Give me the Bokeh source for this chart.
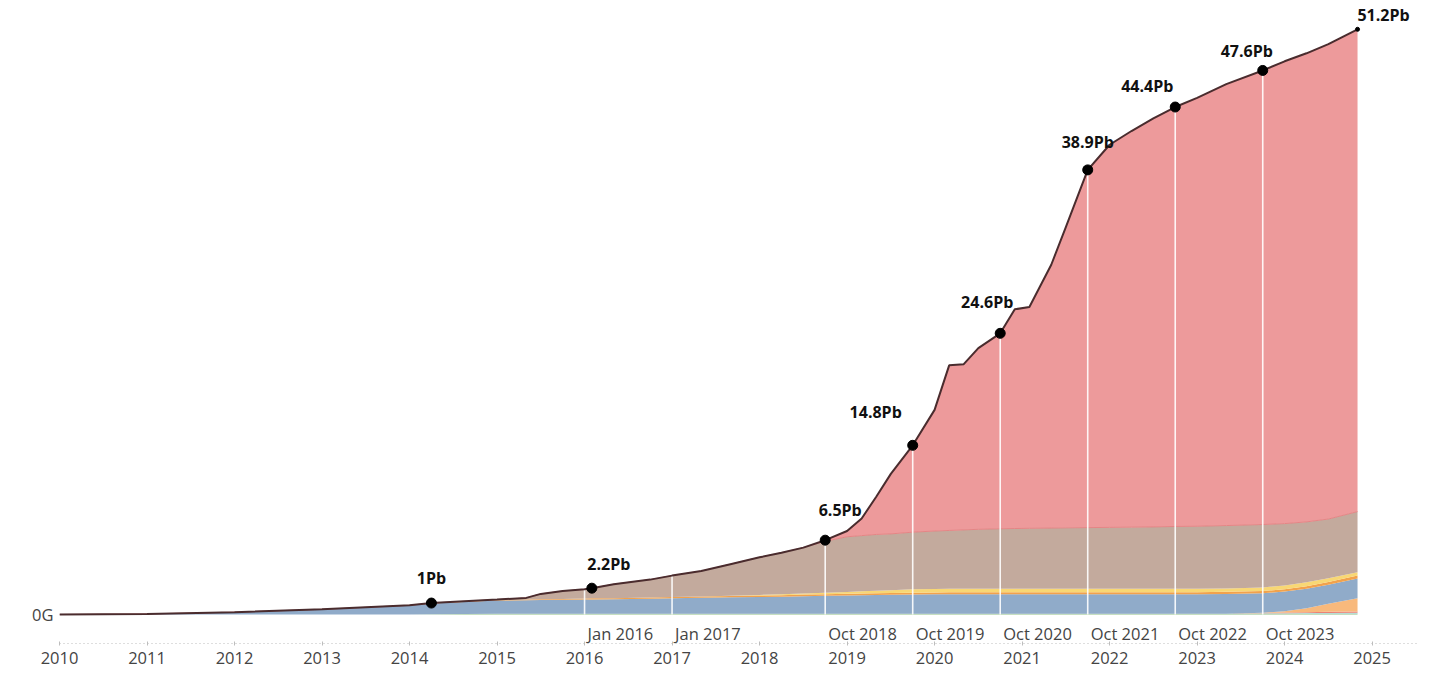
import numpy as np
from bokeh.plotting import figure
from bokeh.models import ColumnDataSource, Range1d, FixedTicker
from bokeh.core.properties import value
from bokeh.embed import file_html
from bokeh.resources import INLINE

# ---------------- data (Pb) ----------------
months = ["2010-01", "2011-01", "2012-01", "2013-01", "2014-01", "2014-04", "2015-01", "2015-05",
          "2015-07", "2015-10", "2016-01", "2016-02", "2016-05", "2016-10", "2017-01", "2017-05",
          "2017-09", "2018-01", "2018-04", "2018-07", "2018-10", "2019-01", "2019-03", "2019-05",
          "2019-07", "2019-10", "2020-01", "2020-03", "2020-05", "2020-07", "2020-10", "2020-12",
          "2021-02", "2021-05", "2021-07", "2021-10", "2022-01", "2022-04", "2022-07", "2022-10",
          "2023-01", "2023-05", "2023-10", "2024-01", "2024-04", "2024-07", "2024-11"]

green = [0, 0, 0, 0, 0, 0.03, 0.06, 0.06, 0.06, 0.06,
         0.06, 0.06, 0.06, 0.06, 0.06, 0.06, 0.06, 0.06, 0.06, 0.06,
         0.06, 0.06, 0.06, 0.06, 0.06, 0.06, 0.06, 0.06, 0.06, 0.06,
         0.06, 0.06, 0.06, 0.06, 0.06, 0.06, 0.06, 0.06, 0.06, 0.06,
         0.06, 0.06, 0.06, 0.06, 0.06, 0.06, 0.06]
teal = [0, 0, 0, 0, 0, 0, 0, 0, 0, 0,
        0, 0, 0, 0, 0, 0, 0, 0, 0, 0,
        0, 0, 0, 0, 0, 0, 0, 0, 0, 0,
        0, 0, 0, 0, 0, 0, 0, 0, 0, 0,
        0, 0, 0.04, 0.05, 0.06, 0.07, 0.08]
red_thin = [0, 0, 0, 0, 0, 0, 0, 0, 0, 0,
            0, 0, 0, 0, 0, 0, 0, 0, 0, 0,
            0, 0, 0, 0, 0, 0, 0, 0, 0, 0,
            0, 0, 0, 0, 0, 0, 0, 0, 0, 0,
            0, 0, 0.03, 0.06, 0.08, 0.10, 0.12]
peach = [0, 0, 0, 0, 0, 0, 0, 0, 0, 0,
         0, 0, 0, 0, 0, 0, 0, 0, 0, 0,
         0, 0, 0, 0, 0, 0, 0, 0, 0, 0,
         0, 0, 0, 0, 0, 0, 0, 0, 0, 0,
         0, 0, 0.03, 0.12, 0.35, 0.70, 1.15]
blue = [0, 0.05, 0.20, 0.45, 0.78, 0.94, 1.16, 1.18, 1.20, 1.22,
        1.24, 1.25, 1.27, 1.32, 1.36, 1.40, 1.44, 1.47, 1.50, 1.54,
        1.57, 1.60, 1.62, 1.64, 1.66, 1.69, 1.70, 1.71, 1.71, 1.71,
        1.71, 1.71, 1.71, 1.71, 1.71, 1.71, 1.71, 1.71, 1.71, 1.72,
        1.72, 1.74, 1.69, 1.71, 1.70, 1.67, 1.74]
orange = [0, 0, 0, 0, 0.02, 0.03, 0.05, 0.06, 0.07, 0.08,
          0.10, 0.10, 0.10, 0.11, 0.11, 0.12, 0.12, 0.13, 0.13, 0.14,
          0.14, 0.15, 0.15, 0.15, 0.15, 0.15, 0.17, 0.17, 0.17, 0.17,
          0.17, 0.17, 0.17, 0.17, 0.17, 0.17, 0.17, 0.17, 0.17, 0.17,
          0.17, 0.18, 0.20, 0.20, 0.22, 0.24, 0.25]
yellow = [0, 0, 0, 0, 0, 0, 0, 0, 0, 0,
          0, 0, 0, 0, 0, 0, 0.02, 0.05, 0.08, 0.10,
          0.13, 0.16, 0.20, 0.23, 0.26, 0.30, 0.30, 0.30, 0.30, 0.30,
          0.30, 0.30, 0.30, 0.30, 0.30, 0.30, 0.30, 0.30, 0.30, 0.30,
          0.30, 0.30, 0.32, 0.33, 0.35, 0.33, 0.30]
brown = [0, 0, 0, 0, 0, 0, 0.03, 0.15, 0.47, 0.69,
         0.80, 0.89, 1.22, 1.56, 1.87, 2.22, 2.76, 3.29, 3.63, 4.01,
         4.50, 4.83, 4.87, 4.92, 4.92, 5.00, 5.07, 5.11, 5.16, 5.21,
         5.26, 5.28, 5.30, 5.32, 5.34, 5.36, 5.38, 5.40, 5.42, 5.45,
         5.47, 5.50, 5.50, 5.42, 5.28, 5.18, 5.30]
pink = [0, 0, 0, 0, 0, 0, 0, 0, 0, 0,
        0, 0, 0, 0, 0, 0, 0, 0, 0, 0,
        0.10, 0.50, 1.50, 3.30, 5.25, 7.60, 10.60, 14.45, 14.50, 15.85,
        17.10, 19.18, 19.36, 23.04, 26.32, 31.30, 33.48, 34.66, 35.74, 36.70,
        37.48, 38.62, 39.73, 40.45, 41.00, 41.55, 42.20]

milestone_months = ["2016-01", "2017-01", "2018-10", "2019-10", "2020-10", "2021-10", "2022-10", "2023-10"]
milestone_labels = ["Jan 2016", "Jan 2017", "Oct 2018", "Oct 2019", "Oct 2020", "Oct 2021", "Oct 2022", "Oct 2023"]

dot_months = ["2014-04", "2016-02", "2018-10", "2019-10", "2020-10", "2021-10", "2022-10", "2023-10", "2024-11"]
dot_labels = ["1Pb", "2.2Pb", "6.5Pb", "14.8Pb", "24.6Pb", "38.9Pb", "44.4Pb", "47.6Pb", "51.2Pb"]

year_ticks = [2010, 2011, 2012, 2013, 2014, 2015, 2016, 2017, 2018, 2019, 2020, 2021, 2022, 2023, 2024, 2025]

# ---------------- layout / style ----------------
layer_names = ["green", "teal", "red_thin", "peach", "blue", "orange", "yellow", "brown", "pink"]
layer_colors = ["#8dbf84", "#a8d8d3", "#ec8275", "#f8b97c", "#90abc9", "#f2a24c", "#f8d774", "#c3aa9d", "#ed9a9b"]
lbl_dx = [0, 17, 15, -37, -13, 0, -28, -16, 26]
lbl_dy = [-25, -24, -30, -33, -31, -28, -21, -19, -14]


def dec(s):
    y, m = s.split("-")
    return int(y) + (int(m) - 1) / 12.0


x = [dec(s) for s in months]
layers = [green, teal, red_thin, peach, blue, orange, yellow, brown, pink]
data = {"x": x}
for n, v in zip(layer_names, layers):
    data[n] = v
src = ColumnDataSource(data)

total = np.sum(np.array(layers), axis=0)
below_pink = total - np.array(pink)
tot_at = dict(zip(months, total))

p = figure(width=1432, height=669,
           x_range=Range1d(2010.0, 2025.53), y_range=Range1d(-2.54, 53.72),
           output_backend="svg", toolbar_location=None,
           min_border_left=59, min_border_right=14, min_border_top=0, min_border_bottom=26)
p.outline_line_color = None
p.xgrid.grid_line_color = None
p.ygrid.grid_line_color = None
p.background_fill_color = "white"
p.border_fill_color = "white"

p.varea_stack(stackers=layer_names, x="x", color=layer_colors, source=src)

# boundary between brown and pink
p.line(x, below_pink, line_color="#e48585", line_width=1)

# milestone white lines
mx = [dec(s) for s in milestone_months]
my = [tot_at[s] for s in milestone_months]
p.segment(x0=mx, y0=[0] * len(mx), x1=mx, y1=my, line_color="white", line_width=1.6, line_alpha=0.9)

# top line
p.line(x, total, line_color="#4a2c2e", line_width=2)

# dots
dx = [dec(s) for s in dot_months]
dy = [tot_at[s] for s in dot_months]
sizes = [10] * (len(dot_months) - 1) + [4]
p.scatter(dx, dy, size=sizes, color="black")

# value labels
lsrc = ColumnDataSource(dict(x=dx, y=dy, t=dot_labels, xo=lbl_dx, yo=lbl_dy))
p.text(x="x", y="y", text="t", x_offset="xo", y_offset="yo", source=lsrc,
       text_font=value("Open Sans"), text_font_style="bold", text_font_size="16px",
       text_color="#111111", text_align="center", text_baseline="middle")

# milestone date labels
msrc = ColumnDataSource(dict(x=mx, y=[0] * len(mx), t=milestone_labels))
p.text(x="x", y="y", text="t", x_offset=3, y_offset=19, source=msrc,
       text_font=value("Open Sans"), text_font_size="16.5px", text_color="#444444",
       text_align="left", text_baseline="middle")

# axes
xa = p.xaxis[0]
xa.ticker = FixedTicker(ticks=year_ticks)
xa.axis_line_color = "#bdbdbd"
xa.axis_line_dash = "1 3"
xa.axis_line_width = 1
xa.major_tick_line_color = "#bdbdbd"
xa.major_tick_in = 2
xa.major_tick_out = 2
xa.minor_tick_line_color = None
xa.major_label_standoff = 6
xa.major_label_text_font = "Open Sans"
xa.major_label_text_font_size = "16.5px"
xa.major_label_text_color = "#444444"

ya = p.yaxis[0]
ya.ticker = FixedTicker(ticks=[0])
ya.major_label_overrides = {0: "0G"}
ya.axis_line_color = None
ya.major_tick_line_color = None
ya.major_tick_out = 0
ya.major_tick_in = 0
ya.minor_tick_line_color = None
ya.major_label_standoff = 6
ya.major_label_text_font = "Open Sans"
ya.major_label_text_font_size = "16.5px"
ya.major_label_text_color = "#444444"

open("out.html", "w").write(file_html(p, INLINE))
